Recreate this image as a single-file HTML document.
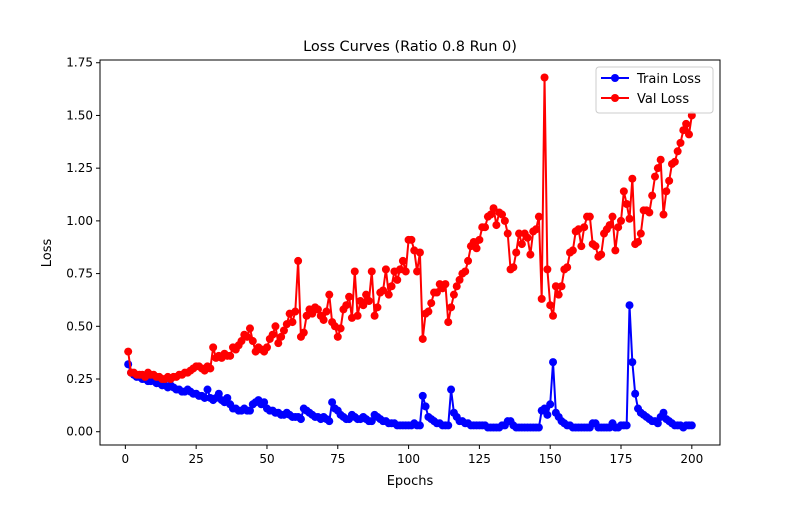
<!DOCTYPE html>
<html><head><meta charset="utf-8"><style>
body{margin:0;background:#fff;}
svg text{font-family:"DejaVu Sans","Liberation Sans",sans-serif;}
</style></head><body>
<svg id="chart" width="800" height="500" xmlns="http://www.w3.org/2000/svg">
<rect width="800" height="500" fill="#fff"/>
<text x="410" y="51" font-size="14.5" text-anchor="middle">Loss Curves (Ratio 0.8 Run 0)</text>
<text x="410" y="485" font-size="13" text-anchor="middle">Epochs</text>
<text x="51" y="253" font-size="13" text-anchor="middle" transform="rotate(-90 51 253)">Loss</text>
<g id="plot"></g>
<rect x="100" y="60" width="620" height="385" fill="none" stroke="#000" stroke-width="1"/>
<g>
<rect x="596" y="67" width="117" height="46" rx="3" fill="#fff" fill-opacity="0.8" stroke="#ccc"/>
<g>
<line x1="601" y1="78" x2="629" y2="78" stroke="#0000ff" stroke-width="2"/><circle cx="615" cy="78" r="4" fill="#0000ff"/>
<text x="637" y="83" font-size="13">Train Loss</text></g>
<g>
<line x1="601" y1="98" x2="629" y2="98" stroke="#ff0000" stroke-width="2"/><circle cx="615" cy="98" r="4" fill="#ff0000"/>
<text x="637" y="103" font-size="13">Val Loss</text></g>
</g>
</svg>
<script>
const xTicks=[0,25,50,75,100,125,150,175,200];
const yTicks=[0,0.25,0.5,0.75,1.0,1.25,1.5,1.75];
const yTickLabels=["0.00","0.25","0.50","0.75","1.00","1.25","1.50","1.75"];
const trainLoss=[0.32,0.28,0.27,0.26,0.26,0.25,0.25,0.24,0.24,0.25,
0.23,0.23,0.22,0.22,0.21,0.22,0.21,0.20,0.20,0.19,
0.19,0.20,0.19,0.18,0.18,0.17,0.17,0.16,0.20,0.16,
0.15,0.16,0.18,0.15,0.14,0.16,0.13,0.11,0.11,0.10,
0.10,0.11,0.10,0.10,0.13,0.14,0.15,0.13,0.14,0.11,
0.10,0.10,0.09,0.09,0.08,0.08,0.09,0.08,0.07,0.07,
0.07,0.06,0.11,0.10,0.09,0.08,0.07,0.07,0.06,0.07,
0.06,0.05,0.14,0.11,0.10,0.08,0.07,0.06,0.06,0.08,
0.07,0.06,0.06,0.07,0.06,0.05,0.05,0.08,0.07,0.06,
0.05,0.05,0.04,0.04,0.04,0.03,0.03,0.03,0.03,0.03,
0.03,0.04,0.03,0.03,0.17,0.12,0.07,0.06,0.05,0.04,
0.04,0.03,0.03,0.03,0.20,0.09,0.07,0.05,0.05,0.04,
0.04,0.03,0.03,0.03,0.03,0.03,0.03,0.02,0.02,0.02,
0.02,0.02,0.03,0.03,0.05,0.05,0.03,0.02,0.02,0.02,
0.02,0.02,0.02,0.02,0.02,0.02,0.10,0.11,0.08,0.13,
0.33,0.09,0.07,0.05,0.04,0.03,0.03,0.02,0.02,0.02,
0.02,0.02,0.02,0.02,0.04,0.04,0.02,0.02,0.02,0.02,
0.02,0.04,0.02,0.02,0.03,0.03,0.03,0.60,0.33,0.18,
0.11,0.09,0.08,0.07,0.06,0.05,0.05,0.04,0.07,0.09,
0.06,0.05,0.04,0.03,0.03,0.03,0.02,0.03,0.03,0.03];
const valLoss=[0.38,0.28,0.28,0.27,0.27,0.27,0.26,0.28,0.27,0.27,
0.26,0.26,0.25,0.25,0.26,0.25,0.26,0.26,0.27,0.27,
0.28,0.28,0.29,0.30,0.31,0.31,0.30,0.29,0.31,0.30,
0.40,0.35,0.36,0.35,0.37,0.36,0.36,0.40,0.39,0.41,
0.43,0.46,0.45,0.49,0.43,0.38,0.40,0.39,0.38,0.40,
0.44,0.46,0.50,0.42,0.45,0.48,0.51,0.56,0.52,0.57,
0.81,0.45,0.47,0.55,0.58,0.56,0.59,0.58,0.55,0.53,
0.57,0.65,0.52,0.50,0.45,0.49,0.58,0.60,0.64,0.54,
0.76,0.55,0.62,0.60,0.65,0.62,0.76,0.55,0.59,0.66,
0.67,0.77,0.65,0.69,0.76,0.72,0.77,0.81,0.76,0.91,
0.91,0.86,0.76,0.85,0.44,0.56,0.57,0.61,0.66,0.66,
0.70,0.68,0.70,0.52,0.59,0.65,0.69,0.72,0.75,0.76,
0.81,0.88,0.90,0.87,0.91,0.97,0.97,1.02,1.03,1.06,
0.98,1.04,1.03,1.00,0.94,0.77,0.78,0.85,0.94,0.89,
0.94,0.92,0.84,0.95,0.96,1.02,0.63,1.68,0.77,0.60,
0.55,0.69,0.65,0.69,0.77,0.78,0.85,0.86,0.95,0.96,
0.88,0.97,1.02,1.02,0.89,0.88,0.83,0.84,0.94,0.96,
0.98,1.02,0.86,0.97,1.00,1.14,1.08,1.01,1.20,0.89,
0.90,0.94,1.05,1.05,1.04,1.12,1.21,1.25,1.29,1.03,
1.14,1.19,1.27,1.28,1.33,1.37,1.43,1.46,1.41,1.50];

const NS="http://www.w3.org/2000/svg";
const L=100,R=720,T=60,B=445;
const n=trainLoss.length;
const xMin=1-(n-1)*0.05, xMax=n+(n-1)*0.05;
const all=trainLoss.concat(valLoss);
const dMin=Math.min(...all), dMax=Math.max(...all);
const yMin=dMin-(dMax-dMin)*0.05, yMax=dMax+(dMax-dMin)*0.05;
const xs=v=>L+(v-xMin)/(xMax-xMin)*(R-L);
const ys=v=>B-(v-yMin)/(yMax-yMin)*(B-T);
const plot=document.getElementById('plot');
function mk(tag,attrs){const e=document.createElementNS(NS,tag);for(const k in attrs)e.setAttribute(k,attrs[k]);return e;}

xTicks.forEach(t=>{
  const g=mk('g',{});
  
  
  g.appendChild(mk('line',{x1:xs(t),x2:xs(t),y1:B,y2:B+4,stroke:'#000'}));
  const tx=mk('text',{x:xs(t),y:B+18,'font-size':'12','text-anchor':'middle'});tx.textContent=t;g.appendChild(tx);
  plot.appendChild(g);
});
yTicks.forEach((t,i)=>{
  const g=mk('g',{});
  
  
  g.appendChild(mk('line',{x1:L-4,x2:L,y1:ys(t),y2:ys(t),stroke:'#000'}));
  const tx=mk('text',{x:L-7,y:ys(t)+4,'font-size':'12','text-anchor':'end'});tx.textContent=yTickLabels[i];g.appendChild(tx);
  plot.appendChild(g);
});
function series(data,color,name){
  const g=mk('g',{});
  
  
  const pts=data.map((v,i)=>xs(i+1).toFixed(2)+','+ys(v).toFixed(2)).join(' ');
  const pl=mk('polyline',{points:pts,fill:'none',stroke:color,'stroke-width':2,'stroke-linejoin':'round'});
  
  
  g.appendChild(pl);
  data.forEach((v,i)=>{
    const c=mk('circle',{cx:xs(i+1),cy:ys(v),r:4,fill:color});
    
    
    g.appendChild(c);
  });
  plot.appendChild(g);
}
series(trainLoss,'#0000ff','train-loss-series');
series(valLoss,'#ff0000','val-loss-series');
</script>
</body></html>
